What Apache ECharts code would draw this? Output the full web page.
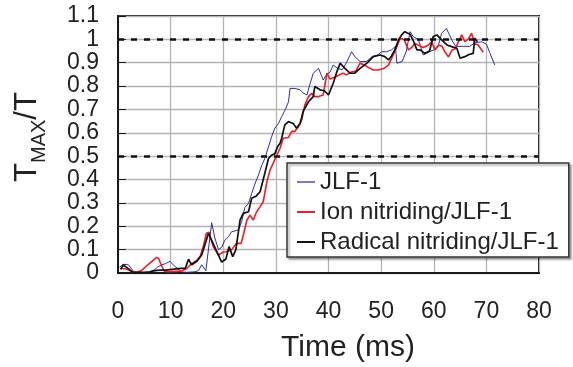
<!DOCTYPE html>
<html><head><meta charset="utf-8">
<script src="https://cdn.jsdelivr.net/npm/echarts@6/dist/echarts.min.js"></script>
<style>html,body{margin:0;padding:0;background:#fff}#c{width:573px;height:367px}</style>
</head><body><div id="c"></div>
<script>
const seriesNames = ['JLF-1', 'Ion nitriding/JLF-1', 'Radical nitriding/JLF-1'];
const xTickLabels = ['0','10','20','30','40','50','60','70','80'];
const yTickLabels = ['0','0.1','0.2','0.3','0.4','0.5','0.6','0.7','0.8','0.9','1','1.1'];
const refLines = [1.0, 0.5];

const blueT = [0.3,1,2,2.5,3,4,5,6,7,7.5,8.3,9,9.9,10.5,11,12,13,14.5,15.3,15.9,16.7,17.8,18.4,19.1,19.7,20.3,21,21.6,22.2,22.9,23.5,24.1,24.8,25.4,26,26.7,27.3,27.9,28.6,29.2,29.8,30.5,31.1,31.8,32.4,32.7,33,33.6,34.6,35.2,35.9,36.5,37.1,38.1,39,39.6,40.3,40.9,41.8,42.6,43.4,44.4,45,46,47.2,48.3,49.3,50.1,51,52,52.7,53,54,54.8,55.5,56.1,57.1,58,59,60,60.9,61.5,62.4,63,63.6,64.2,65.6,66.8,67.8,69.1,70,70.7,71.6];
const blueV = [0.025,0.037,0.035,0.02,0.005,0.0,0.0,0.003,0.015,0.025,0.035,0.04,0.05,0.035,0.025,0.005,0.003,0.005,0.01,0.035,0.01,0.215,0.15,0.1,0.11,0.14,0.155,0.177,0.18,0.185,0.22,0.28,0.298,0.34,0.38,0.42,0.46,0.49,0.54,0.584,0.62,0.64,0.669,0.7,0.733,0.79,0.797,0.79,0.784,0.77,0.762,0.81,0.855,0.876,0.826,0.85,0.86,0.89,0.875,0.87,0.9,0.947,0.926,0.905,0.905,0.926,0.933,0.947,0.947,0.955,0.97,0.898,0.905,0.95,1.033,1.012,0.998,0.933,0.945,0.955,0.976,1.026,1.047,1.019,0.99,0.97,0.97,0.97,0.985,0.99,0.98,0.94,0.89];

const redT = [0.5,1.6,2.6,3.5,4.5,5.4,6.4,7.3,7.7,8.3,8.8,9.6,12,13,14,15,15.6,16.2,16.8,17.3,17.6,18.1,19.1,20,20.6,21.6,22.5,23.4,23.9,24.5,25.1,25.7,26.3,27,27.6,28.3,28.9,29.5,30.2,30.8,31.4,31.7,32.4,33,33.6,34.3,34.9,35.5,36.2,36.8,37.4,38.1,39,39.7,40.3,41.4,42.2,42.8,43.4,44.3,45.2,46,46.8,47.9,48.5,49.5,50.5,51.4,52,53,53.6,54.4,55.2,55.8,56.4,57,58,59,59.6,60.2,61,61.6,62.1,62.8,63.5,64.1,64.7,65.3,65.9,66.5,67.2,67.8,68.4,69.4];
const redV = [0.02,0.017,0.006,0.003,0.011,0.03,0.049,0.066,0.063,0.03,0.008,0.006,0.008,0.018,0.04,0.055,0.07,0.113,0.17,0.175,0.15,0.113,0.077,0.09,0.091,0.1,0.127,0.127,0.17,0.227,0.248,0.227,0.26,0.284,0.305,0.391,0.441,0.47,0.505,0.534,0.577,0.57,0.58,0.606,0.606,0.627,0.655,0.719,0.755,0.769,0.755,0.755,0.762,0.855,0.83,0.84,0.85,0.855,0.848,0.86,0.865,0.898,0.89,0.876,0.869,0.869,0.875,0.89,0.919,0.969,1.005,0.998,0.955,0.965,0.983,0.976,0.965,0.976,0.99,0.955,0.975,0.97,0.947,0.925,0.955,0.96,0.99,1.019,0.99,1.0,1.026,0.98,0.977,0.945];

const blackT = [0.5,1,1.9,2.8,4,5,6,7,8,9,10,11,12,12.8,13.4,14,15,15.9,16.5,17.2,17.8,18.8,19.7,20.5,21.1,21.8,22.4,23.2,23.8,24.8,25.4,26.3,27,27.9,28.6,29.2,29.8,30.3,30.8,31.1,31.7,32.4,33.3,33.9,34.6,35.2,36.2,37.1,37.4,38.4,39.2,40,40.9,41.6,42.2,43.1,44.1,45,46,47.3,48.5,49.8,50.7,51.4,52,52.6,53.3,53.9,54.5,55.5,56.2,56.8,57.4,58.3,59.2,59.9,60.6,61.5,62.5,63.4,64.4,65,65.9,66.7,67.5,67.8,68.3];
const blackV = [0.015,0.034,0.02,0.004,0.003,0.003,0.005,0.01,0.012,0.012,0.015,0.018,0.02,0.02,0.059,0.035,0.05,0.077,0.12,0.17,0.14,0.09,0.047,0.06,0.113,0.07,0.1,0.227,0.255,0.262,0.32,0.33,0.348,0.427,0.49,0.505,0.51,0.54,0.555,0.577,0.634,0.648,0.64,0.62,0.64,0.693,0.733,0.755,0.798,0.784,0.78,0.762,0.812,0.862,0.898,0.876,0.855,0.855,0.876,0.898,0.926,0.933,0.926,0.912,0.93,0.955,0.997,1.019,1.033,1.022,0.99,0.955,0.955,0.94,0.95,1.012,1.019,0.998,0.976,0.969,0.962,0.919,0.926,0.935,0.94,1.005,0.99];

function zip(t, v) { return t.map((x, i) => [x, v[i]]); }

const FONT = '"Liberation Sans", Arial, sans-serif';
const chart = echarts.init(document.getElementById('c'), null, {renderer: 'canvas'});
chart.setOption({
  animation: false,
  backgroundColor: '#fff',
  grid: {left: 118, right: 34, top: 16, bottom: 94, show: true, borderColor: '#1a1a1a', borderWidth: 2, containLabel: false},
  xAxis: {
    type: 'value', min: 0, max: 80, interval: 10,
    axisLine: {show: true, lineStyle: {color: '#1a1a1a', width: 2}},
    axisTick: {show: false},
    splitLine: {show: true, lineStyle: {color: '#b4b4b4', width: 1.3}},
    axisLabel: {fontSize: 23, color: '#222', fontFamily: FONT, margin: 27,
      formatter: v => xTickLabels[Math.round(v / 10)]}
  },
  yAxis: {
    type: 'value', min: 0, max: 1.1, interval: 0.1,
    axisLine: {show: true, lineStyle: {color: '#1a1a1a', width: 2}},
    axisTick: {show: true, inside: true, length: 8, lineStyle: {color: '#1a1a1a', width: 1}},
    splitLine: {show: true, lineStyle: {color: '#b4b4b4', width: 1.3}},
    axisLabel: {fontSize: 23, color: '#222', fontFamily: FONT, margin: 19,
      formatter: v => yTickLabels[Math.round(v * 10)]}
  },
  legend: {
    orient: 'vertical', left: 287, top: 163,
    backgroundColor: '#fff', borderColor: '#333', borderWidth: 1.5,
    shadowColor: 'rgba(0,0,0,0.35)', shadowOffsetX: 2, shadowOffsetY: 2, shadowBlur: 2,
    padding: [7, 10, 3, 10], itemGap: 6,
    itemWidth: 18, itemHeight: 2, icon: 'rect',
    textStyle: {fontSize: 24, color: '#222', fontFamily: FONT, lineHeight: 24},
    data: seriesNames
  },
  graphic: [
    {type: 'text', x: 27, y: 137, rotation: Math.PI / 2,
      style: {text: '{t|T}{s|MAX}{t|/T}', align: 'center', verticalAlign: 'middle',
        fill: '#222', font: '31px ' + FONT,
        rich: {t: {fontSize: 31, fontFamily: FONT, fill: '#222', lineHeight: 32, verticalAlign: 'bottom'},
               s: {fontSize: 20, fontFamily: FONT, fill: '#222', lineHeight: 20, verticalAlign: 'bottom', padding: [0, 0, -6, 0]}}}},
    {type: 'text', x: 348, y: 348,
      style: {text: 'Time (ms)', align: 'center', verticalAlign: 'middle', fill: '#222', font: '30px ' + FONT}}
  ],
  series: [
    {name: seriesNames[0], type: 'line', data: zip(blueT, blueV), showSymbol: false, symbol: 'none',
      lineStyle: {color: '#2e2e9a', width: 1}, itemStyle: {color: '#7a7ac8'}, z: 3,
      markLine: {silent: true, symbol: 'none', label: {show: false},
        lineStyle: {color: '#111', type: [6, 7], width: 2.5},
        data: refLines.map(y => ({yAxis: y}))}},
    {name: seriesNames[1], type: 'line', data: zip(redT, redV), showSymbol: false, symbol: 'none',
      lineStyle: {color: '#ee1c24', width: 1.6}, itemStyle: {color: '#ee1c24'}, z: 4},
    {name: seriesNames[2], type: 'line', data: zip(blackT, blackV), showSymbol: false, symbol: 'none',
      lineStyle: {color: '#111', width: 1.7}, itemStyle: {color: '#111'}, z: 5}
  ]
});
</script></body></html>
